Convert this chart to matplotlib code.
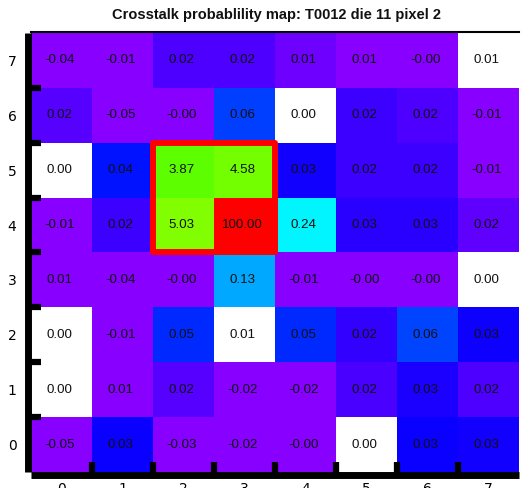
import numpy as np
import matplotlib
matplotlib.use("Agg")
import matplotlib.pyplot as plt
from matplotlib.colors import ListedColormap, FuncNorm, hsv_to_rgb
from matplotlib.font_manager import FontProperties
from matplotlib.patches import Rectangle

title = "Crosstalk probablility map: T0012 die 11 pixel 2"

col_labels = ["0", "1", "2", "3", "4", "5", "6", "7"]
row_labels = ["0", "1", "2", "3", "4", "5", "6", "7"]

# crosstalk probability in percent, one list per pixel row (row 0 at the bottom)
prob_row0 = [-0.05, 0.033, -0.03, -0.02, -0.002, 0.00, 0.033, 0.031]
prob_row1 = [0.00, 0.010, 0.018, -0.02, -0.02, 0.020, 0.028, 0.019]
prob_row2 = [0.00, -0.01, 0.048, 0.010, 0.048, 0.024, 0.060, 0.032]
prob_row3 = [0.010, -0.04, -0.002, 0.13, -0.01, -0.002, -0.002, 0.00]
prob_row4 = [-0.01, 0.022, 5.03, 100.00, 0.24, 0.026, 0.026, 0.017]
prob_row5 = [0.00, 0.041, 3.87, 4.58, 0.031, 0.022, 0.022, -0.01]
prob_row6 = [0.018, -0.05, -0.002, 0.058, 0.00, 0.022, 0.019, -0.01]
prob_row7 = [-0.04, -0.01, 0.019, 0.019, 0.015, 0.011, -0.002, 0.010]

# pixels whose bins were never filled (left unpainted), as (column, row)
empty_cols = [7, 4, 0, 7, 0, 3, 0, 5]
empty_rows = [7, 6, 5, 3, 2, 2, 1, 0]

# central pixel neighbourhood highlighted with a frame: (column, row, width, height)
box_col, box_row, box_w, box_h = 2, 4, 2, 2

z_min, z_max = 0.012, 100.0

values = np.array([prob_row0, prob_row1, prob_row2, prob_row3,
                   prob_row4, prob_row5, prob_row6, prob_row7])
mask = np.zeros_like(values, dtype=bool)
for c, r in zip(empty_cols, empty_rows):
    mask[r, c] = True
data = np.ma.masked_array(values, mask=mask)

# rainbow palette: violet at the minimum through blue, cyan, green, yellow to red
hues = np.linspace(272.0 / 360.0, 0.0, 256)
rgb = hsv_to_rgb(np.column_stack([hues, np.ones(256), np.ones(256)]))
cmap = ListedColormap(rgb)
cmap.set_bad("white")


def _fwd(v):
    return np.log10(np.clip(v, z_min, None))


def _inv(v):
    return 10.0 ** v


norm = FuncNorm((_fwd, _inv), vmin=z_min, vmax=z_max)

fig = plt.figure(figsize=(5.25, 4.88), dpi=100)
ax = fig.add_axes([31 / 525, 1 - 472 / 488, (519 - 31) / 525, (472 - 33) / 488])

xe = np.arange(len(col_labels) + 1)
ye = np.arange(len(row_labels) + 1)
ax.pcolormesh(xe, ye, data, cmap=cmap, norm=norm, shading="flat",
              antialiased=False, edgecolors="none")

cell_font = FontProperties(family="Liberation Sans", size=9.6)
for r in range(values.shape[0]):
    for c in range(values.shape[1]):
        ax.text(c + 0.47, r + 0.5, f"{values[r, c]:.2f}", ha="center", va="center",
                fontproperties=cell_font, color="#111111")

ax.add_patch(Rectangle((box_col, box_row), box_w, box_h, fill=False,
                       edgecolor="#ff0000", linewidth=4.3, joinstyle="round",
                       clip_on=False, zorder=5))

ax.set_xlim(0, len(col_labels))
ax.set_ylim(0, len(row_labels))

ax.set_xticks(np.arange(1, len(col_labels)), minor=True)
ax.set_yticks(np.arange(1, len(row_labels)), minor=True)
ax.tick_params(which="minor", direction="in", length=9.7, width=4.5,
               color="black", bottom=True, left=True, top=False, right=False)
ax.tick_params(axis="x", which="major", length=0, pad=4.5)
ax.tick_params(axis="y", which="major", length=0, pad=8)

axis_font = FontProperties(family=["Liberation Serif", "DejaVu Serif"],
                           style="italic", size=14.5)
ax.set_xticks(np.arange(len(col_labels)) + 0.5, col_labels,
              fontproperties=axis_font, color="#222233")
ax.set_yticks(np.arange(len(row_labels)) + 0.5, row_labels,
              fontproperties=axis_font, color="#222233")

for side in ["left", "bottom"]:
    ax.spines[side].set_linewidth(5.0)
    ax.spines[side].set_position(("outward", 2.5))
    ax.spines[side].set_capstyle("butt")
ax.spines["top"].set_linewidth(1.5)
ax.spines["top"].set_position(("outward", 1.0))
ax.spines["right"].set_visible(False)

fig.text(277 / 525, 1 - 15 / 488, title, ha="center", va="center",
         fontsize=10.5, fontweight="bold", family="Liberation Sans", color="#111111")

fig.savefig("out.png", dpi=100)
